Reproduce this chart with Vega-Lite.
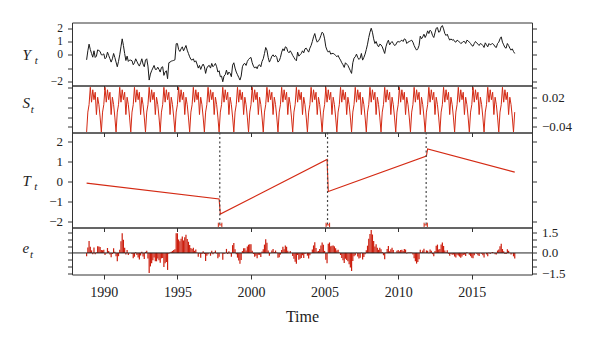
{
"$schema": "https://vega.github.io/schema/vega-lite/v6.json",
"padding": {"left": 21, "top": 21.5, "right": 5, "bottom": 5},
"bounds": "flush",
"spacing": 0,
"config": {
 "view": {"stroke": "#333333", "strokeWidth": 1},
 "font": "Liberation Serif",
 "axis": {"domain": false, "grid": false, "tickColor": "#333333", "tickSize": 4.5, "tickWidth": 1, "labelFont": "Liberation Serif", "labelFontSize": 12, "labelColor": "#222222", "labelPadding": 5, "titleFont": "Liberation Serif", "titleFontWeight": "normal", "titleColor": "#222222", "titleAngle": 0, "titleAlign": "left", "titleBaseline": "alphabetic", "titleFontStyle": "italic"}
},
"datasets": {
"m": [
{"t":1988.833,"y":-0.38,"s":-0.05,"e":-0.25},{"t":1988.917,"y":0.3,"s":-0.01,"e":0.41},
{"t":1989.0,"y":0.8,"s":0.005,"e":0.89},{"t":1989.083,"y":0.4,"s":0.04,"e":0.46},{"t":1989.167,"y":0.1,"s":0.01,"e":0.19},{"t":1989.25,"y":-0.18,"s":0.035,"e":-0.09},{"t":1989.333,"y":0.3,"s":0.015,"e":0.4},{"t":1989.417,"y":-0.2,"s":0.03,"e":-0.09},{"t":1989.5,"y":-0.1,"s":-0.015,"e":0.04},{"t":1989.583,"y":0.37,"s":0.02,"e":0.5},{"t":1989.667,"y":0.32,"s":0.005,"e":0.48},{"t":1989.75,"y":0.25,"s":-0.02,"e":0.45},{"t":1989.833,"y":0.0,"s":-0.05,"e":0.22},{"t":1989.917,"y":0.0,"s":-0.01,"e":0.2},
{"t":1990.0,"y":0.07,"s":0.005,"e":0.24},{"t":1990.083,"y":-0.3,"s":0.04,"e":-0.15},{"t":1990.167,"y":-0.2,"s":0.01,"e":-0.02},{"t":1990.25,"y":0.2,"s":0.035,"e":0.37},{"t":1990.333,"y":-0.05,"s":0.015,"e":0.14},{"t":1990.417,"y":-0.3,"s":0.03,"e":-0.11},{"t":1990.5,"y":-0.55,"s":-0.015,"e":-0.32},{"t":1990.583,"y":-0.3,"s":0.02,"e":-0.08},{"t":1990.667,"y":0.1,"s":0.005,"e":0.35},{"t":1990.75,"y":-0.2,"s":-0.02,"e":0.09},{"t":1990.833,"y":-0.55,"s":-0.05,"e":-0.24},{"t":1990.917,"y":-0.9,"s":-0.01,"e":-0.62},
{"t":1991.0,"y":-0.5,"s":0.005,"e":-0.24},{"t":1991.083,"y":0.0,"s":0.04,"e":0.24},{"t":1991.167,"y":0.6,"s":0.01,"e":0.87},{"t":1991.25,"y":1.2,"s":0.035,"e":1.46},{"t":1991.333,"y":0.7,"s":0.015,"e":0.98},{"t":1991.417,"y":0.1,"s":0.03,"e":0.38},{"t":1991.5,"y":-0.43,"s":-0.015,"e":-0.11},{"t":1991.583,"y":-0.1,"s":0.02,"e":0.21},{"t":1991.667,"y":-0.5,"s":0.005,"e":-0.16},{"t":1991.75,"y":-0.4,"s":-0.02,"e":-0.02},{"t":1991.833,"y":-0.4,"s":-0.05,"e":-0.01},{"t":1991.917,"y":-0.45,"s":-0.01,"e":-0.08},
{"t":1992.0,"y":-0.75,"s":0.005,"e":-0.4},{"t":1992.083,"y":-0.6,"s":0.04,"e":-0.28},{"t":1992.167,"y":-0.3,"s":0.01,"e":0.06},{"t":1992.25,"y":-0.5,"s":0.035,"e":-0.15},{"t":1992.333,"y":-0.7,"s":0.015,"e":-0.33},{"t":1992.417,"y":-0.85,"s":0.03,"e":-0.48},{"t":1992.5,"y":-0.6,"s":-0.015,"e":-0.19},{"t":1992.583,"y":-0.3,"s":0.02,"e":0.09},{"t":1992.667,"y":-0.7,"s":0.005,"e":-0.27},{"t":1992.75,"y":-0.9,"s":-0.02,"e":-0.44},{"t":1992.833,"y":-0.4,"s":-0.05,"e":0.08},{"t":1992.917,"y":-0.3,"s":-0.01,"e":0.16},
{"t":1993.0,"y":-0.85,"s":0.005,"e":-0.41},{"t":1993.083,"y":-1.9,"s":0.04,"e":-1.49},{"t":1993.167,"y":-1.45,"s":0.01,"e":-1.0},{"t":1993.25,"y":-1.2,"s":0.035,"e":-0.76},{"t":1993.333,"y":-1.0,"s":0.015,"e":-0.55},{"t":1993.417,"y":-0.8,"s":0.03,"e":-0.34},{"t":1993.5,"y":-1.1,"s":-0.015,"e":-0.61},{"t":1993.583,"y":-1.1,"s":0.02,"e":-0.62},{"t":1993.667,"y":-0.93,"s":0.005,"e":-0.42},{"t":1993.75,"y":-1.1,"s":-0.02,"e":-0.55},{"t":1993.833,"y":-1.3,"s":-0.05,"e":-0.73},{"t":1993.917,"y":-0.95,"s":-0.01,"e":-0.4},
{"t":1994.0,"y":-0.9,"s":0.005,"e":-0.38},{"t":1994.083,"y":-1.55,"s":0.04,"e":-1.05},{"t":1994.167,"y":-1.3,"s":0.01,"e":-0.77},{"t":1994.25,"y":-1.2,"s":0.035,"e":-0.68},{"t":1994.333,"y":-1.8,"s":0.015,"e":-1.26},{"t":1994.417,"y":-0.6,"s":0.03,"e":-0.06},{"t":1994.5,"y":-0.55,"s":-0.015,"e":0.03},{"t":1994.583,"y":-0.48,"s":0.02,"e":0.09},{"t":1994.667,"y":-0.45,"s":0.005,"e":0.15},{"t":1994.75,"y":-0.42,"s":-0.02,"e":0.22},{"t":1994.833,"y":-0.38,"s":-0.05,"e":0.28},{"t":1994.917,"y":0.83,"s":-0.01,"e":1.46},
{"t":1995.0,"y":0.85,"s":0.005,"e":1.46},{"t":1995.083,"y":0.4,"s":0.04,"e":0.99},{"t":1995.167,"y":0.25,"s":0.01,"e":0.87},{"t":1995.25,"y":0.45,"s":0.035,"e":1.06},{"t":1995.333,"y":0.6,"s":0.015,"e":1.23},{"t":1995.417,"y":0.3,"s":0.03,"e":0.93},{"t":1995.5,"y":0.5,"s":-0.015,"e":1.17},{"t":1995.583,"y":0.7,"s":0.02,"e":1.36},{"t":1995.667,"y":0.35,"s":0.005,"e":1.04},{"t":1995.75,"y":0.1,"s":-0.02,"e":0.83},{"t":1995.833,"y":-0.15,"s":-0.05,"e":0.59},{"t":1995.917,"y":-0.35,"s":-0.01,"e":0.37},
{"t":1996.0,"y":-0.4,"s":0.005,"e":0.3},{"t":1996.083,"y":-0.3,"s":0.04,"e":0.38},{"t":1996.167,"y":-0.55,"s":0.01,"e":0.16},{"t":1996.25,"y":-0.45,"s":0.035,"e":0.25},{"t":1996.333,"y":-0.7,"s":0.015,"e":0.02},{"t":1996.417,"y":-1.0,"s":0.03,"e":-0.28},{"t":1996.5,"y":-0.8,"s":-0.015,"e":-0.04},{"t":1996.583,"y":-1.1,"s":0.02,"e":-0.36},{"t":1996.667,"y":-0.85,"s":0.005,"e":-0.07},{"t":1996.75,"y":-0.7,"s":-0.02,"e":0.12},{"t":1996.833,"y":-0.9,"s":-0.05,"e":-0.07},{"t":1996.917,"y":-1.4,"s":-0.01,"e":-0.59},
{"t":1997.0,"y":-1.0,"s":0.005,"e":-0.21},{"t":1997.083,"y":-0.85,"s":0.04,"e":-0.09},{"t":1997.167,"y":-0.8,"s":0.01,"e":0.0},{"t":1997.25,"y":-1.0,"s":0.035,"e":-0.21},{"t":1997.333,"y":-0.65,"s":0.015,"e":0.16},{"t":1997.417,"y":-0.9,"s":0.03,"e":-0.09},{"t":1997.5,"y":-0.8,"s":-0.015,"e":0.05},{"t":1997.583,"y":-0.65,"s":0.02,"e":0.18},{"t":1997.667,"y":-0.9,"s":0.005,"e":-0.04},{"t":1997.75,"y":-1.3,"s":-0.02,"e":-0.4},{"t":1997.833,"y":-1.2,"s":-0.05,"e":-0.28},{"t":1997.917,"y":-1.65,"s":-0.01,"e":0.0},
{"t":1998.0,"y":-1.6,"s":0.005,"e":-0.01},{"t":1998.083,"y":-2.03,"s":0.04,"e":-0.5},{"t":1998.167,"y":-1.6,"s":0.01,"e":-0.08},{"t":1998.25,"y":-1.5,"s":0.035,"e":-0.03},{"t":1998.333,"y":-1.15,"s":0.015,"e":0.3},{"t":1998.417,"y":-1.5,"s":0.03,"e":-0.08},{"t":1998.5,"y":-1.3,"s":-0.015,"e":0.12},{"t":1998.583,"y":-1.4,"s":0.02,"e":-0.04},{"t":1998.667,"y":-1.65,"s":0.005,"e":-0.29},{"t":1998.75,"y":-0.78,"s":-0.02,"e":0.58},{"t":1998.833,"y":-0.6,"s":-0.05,"e":0.74},{"t":1998.917,"y":-1.0,"s":-0.01,"e":0.27},
{"t":1999.0,"y":-1.3,"s":0.005,"e":-0.09},{"t":1999.083,"y":-1.5,"s":0.04,"e":-0.35},{"t":1999.167,"y":-1.7,"s":0.01,"e":-0.56},{"t":1999.25,"y":-1.9,"s":0.035,"e":-0.8},{"t":1999.333,"y":-1.6,"s":0.015,"e":-0.52},{"t":1999.417,"y":-0.9,"s":0.03,"e":0.14},{"t":1999.5,"y":-0.7,"s":-0.015,"e":0.34},{"t":1999.583,"y":-0.65,"s":0.02,"e":0.34},{"t":1999.667,"y":-0.8,"s":0.005,"e":0.18},{"t":1999.75,"y":-0.5,"s":-0.02,"e":0.48},{"t":1999.833,"y":-0.35,"s":-0.05,"e":0.61},{"t":1999.917,"y":-0.25,"s":-0.01,"e":0.65},
{"t":2000.0,"y":-0.2,"s":0.005,"e":0.64},{"t":2000.083,"y":-0.6,"s":0.04,"e":0.17},{"t":2000.167,"y":-0.85,"s":0.01,"e":-0.08},{"t":2000.25,"y":-1.0,"s":0.035,"e":-0.28},{"t":2000.333,"y":-0.9,"s":0.015,"e":-0.2},{"t":2000.417,"y":-1.05,"s":0.03,"e":-0.39},{"t":2000.5,"y":-0.8,"s":-0.015,"e":-0.14},{"t":2000.583,"y":-0.75,"s":0.02,"e":-0.14},{"t":2000.667,"y":-0.9,"s":0.005,"e":-0.3},{"t":2000.75,"y":-0.5,"s":-0.02,"e":0.1},{"t":2000.833,"y":-0.3,"s":-0.05,"e":0.28},{"t":2000.917,"y":0.1,"s":-0.01,"e":0.62},
{"t":2001.0,"y":0.55,"s":0.005,"e":1.01},{"t":2001.083,"y":0.35,"s":0.04,"e":0.75},{"t":2001.167,"y":-0.2,"s":0.01,"e":0.19},{"t":2001.25,"y":-0.55,"s":0.035,"e":-0.21},{"t":2001.333,"y":-0.35,"s":0.015,"e":-0.03},{"t":2001.417,"y":-0.1,"s":0.03,"e":0.19},{"t":2001.5,"y":0.0,"s":-0.015,"e":0.29},{"t":2001.583,"y":-0.15,"s":0.02,"e":0.08},{"t":2001.667,"y":-0.05,"s":0.005,"e":0.18},{"t":2001.75,"y":-0.2,"s":-0.02,"e":0.03},{"t":2001.833,"y":-0.55,"s":-0.05,"e":-0.35},{"t":2001.917,"y":-0.45,"s":-0.01,"e":-0.31},
{"t":2002.0,"y":-0.2,"s":0.005,"e":-0.12},{"t":2002.083,"y":0.2,"s":0.04,"e":0.22},{"t":2002.167,"y":0.45,"s":0.01,"e":0.46},{"t":2002.25,"y":0.3,"s":0.035,"e":0.27},{"t":2002.333,"y":0.6,"s":0.015,"e":0.55},{"t":2002.417,"y":0.55,"s":0.03,"e":0.46},{"t":2002.5,"y":0.25,"s":-0.015,"e":0.16},{"t":2002.583,"y":0.15,"s":0.02,"e":0.01},{"t":2002.667,"y":0.3,"s":0.005,"e":0.15},{"t":2002.75,"y":0.15,"s":-0.02,"e":0.0},{"t":2002.833,"y":-0.05,"s":-0.05,"e":-0.22},{"t":2002.917,"y":-0.2,"s":-0.01,"e":-0.43},
{"t":2003.0,"y":-0.35,"s":0.005,"e":-0.65},{"t":2003.083,"y":-0.45,"s":0.04,"e":-0.81},{"t":2003.167,"y":0.2,"s":0.01,"e":-0.16},{"t":2003.25,"y":-0.1,"s":0.035,"e":-0.51},{"t":2003.333,"y":0.0,"s":0.015,"e":-0.43},{"t":2003.417,"y":0.1,"s":0.03,"e":-0.37},{"t":2003.5,"y":0.3,"s":-0.015,"e":-0.17},{"t":2003.583,"y":0.15,"s":0.02,"e":-0.37},{"t":2003.667,"y":0.45,"s":0.005,"e":-0.08},{"t":2003.75,"y":0.5,"s":-0.02,"e":-0.03},{"t":2003.833,"y":0.35,"s":-0.05,"e":-0.2},{"t":2003.917,"y":0.2,"s":-0.01,"e":-0.41},
{"t":2004.0,"y":0.5,"s":0.005,"e":-0.17},{"t":2004.083,"y":0.7,"s":0.04,"e":-0.03},{"t":2004.167,"y":1.0,"s":0.01,"e":0.26},{"t":2004.25,"y":1.35,"s":0.035,"e":0.56},{"t":2004.333,"y":1.6,"s":0.015,"e":0.79},{"t":2004.417,"y":1.2,"s":0.03,"e":0.36},{"t":2004.5,"y":0.95,"s":-0.015,"e":0.1},{"t":2004.583,"y":1.05,"s":0.02,"e":0.15},{"t":2004.667,"y":1.2,"s":0.005,"e":0.3},{"t":2004.75,"y":1.45,"s":-0.02,"e":0.55},{"t":2004.833,"y":1.7,"s":-0.05,"e":0.77},{"t":2004.917,"y":1.6,"s":-0.01,"e":0.61},
{"t":2005.0,"y":1.2,"s":0.005,"e":0.15},{"t":2005.083,"y":0.6,"s":0.04,"e":-0.51},{"t":2005.167,"y":0.35,"s":0.01,"e":-0.77},{"t":2005.25,"y":0.2,"s":0.035,"e":0.68},{"t":2005.333,"y":0.3,"s":0.015,"e":0.78},{"t":2005.417,"y":0.05,"s":0.03,"e":0.49},{"t":2005.5,"y":0.1,"s":-0.015,"e":0.54},{"t":2005.583,"y":0.1,"s":0.02,"e":0.55},{"t":2005.667,"y":0.05,"s":0.005,"e":0.49},{"t":2005.75,"y":-0.05,"s":-0.02,"e":0.34},{"t":2005.833,"y":-0.15,"s":-0.05,"e":0.18},{"t":2005.917,"y":-0.05,"s":-0.01,"e":0.23},
{"t":2006.0,"y":-0.25,"s":0.005,"e":0.03},{"t":2006.083,"y":-0.4,"s":0.04,"e":-0.15},{"t":2006.167,"y":-0.6,"s":0.01,"e":-0.37},{"t":2006.25,"y":-0.75,"s":0.035,"e":-0.54},{"t":2006.333,"y":-0.95,"s":0.015,"e":-0.74},{"t":2006.417,"y":-0.6,"s":0.03,"e":-0.43},{"t":2006.5,"y":-0.7,"s":-0.015,"e":-0.53},{"t":2006.583,"y":-0.8,"s":0.02,"e":-0.62},{"t":2006.667,"y":-1.0,"s":0.005,"e":-0.83},{"t":2006.75,"y":-1.2,"s":-0.02,"e":-1.08},{"t":2006.833,"y":-1.4,"s":-0.05,"e":-1.34},{"t":2006.917,"y":-0.6,"s":-0.01,"e":-0.59},
{"t":2007.0,"y":-0.25,"s":0.005,"e":-0.24},{"t":2007.083,"y":-0.15,"s":0.04,"e":-0.17},{"t":2007.167,"y":0.05,"s":0.01,"e":0.02},{"t":2007.25,"y":-0.2,"s":0.035,"e":-0.26},{"t":2007.333,"y":-0.35,"s":0.015,"e":-0.41},{"t":2007.417,"y":-0.25,"s":0.03,"e":-0.35},{"t":2007.5,"y":0.1,"s":-0.015,"e":0.01},{"t":2007.583,"y":-0.4,"s":0.02,"e":-0.49},{"t":2007.667,"y":-0.2,"s":0.005,"e":-0.3},{"t":2007.75,"y":0.05,"s":-0.02,"e":-0.1},{"t":2007.833,"y":0.4,"s":-0.05,"e":0.2},{"t":2007.917,"y":0.8,"s":-0.01,"e":0.54},
{"t":2008.0,"y":1.3,"s":0.005,"e":1.05},{"t":2008.083,"y":1.7,"s":0.04,"e":1.41},{"t":2008.167,"y":2.0,"s":0.01,"e":1.7},{"t":2008.25,"y":1.7,"s":0.035,"e":1.37},{"t":2008.333,"y":1.2,"s":0.015,"e":0.88},{"t":2008.417,"y":0.85,"s":0.03,"e":0.48},{"t":2008.5,"y":1.0,"s":-0.015,"e":0.64},{"t":2008.583,"y":0.75,"s":0.02,"e":0.39},{"t":2008.667,"y":0.6,"s":0.005,"e":0.23},{"t":2008.75,"y":0.8,"s":-0.02,"e":0.38},{"t":2008.833,"y":0.75,"s":-0.05,"e":0.28},{"t":2008.917,"y":0.6,"s":-0.01,"e":0.07},
{"t":2009.0,"y":0.35,"s":0.005,"e":-0.17},{"t":2009.083,"y":0.1,"s":0.04,"e":-0.46},{"t":2009.167,"y":0.6,"s":0.01,"e":0.03},{"t":2009.25,"y":0.9,"s":0.035,"e":0.3},{"t":2009.333,"y":1.1,"s":0.015,"e":0.51},{"t":2009.417,"y":0.75,"s":0.03,"e":0.12},{"t":2009.5,"y":0.9,"s":-0.015,"e":0.27},{"t":2009.583,"y":1.0,"s":0.02,"e":0.38},{"t":2009.667,"y":0.85,"s":0.005,"e":0.21},{"t":2009.75,"y":0.7,"s":-0.02,"e":0.01},{"t":2009.833,"y":0.75,"s":-0.05,"e":0.01},{"t":2009.917,"y":0.95,"s":-0.01,"e":0.16},
{"t":2010.0,"y":1.0,"s":0.005,"e":0.21},{"t":2010.083,"y":0.95,"s":0.04,"e":0.12},{"t":2010.167,"y":1.05,"s":0.01,"e":0.21},{"t":2010.25,"y":1.1,"s":0.035,"e":0.23},{"t":2010.333,"y":1.0,"s":0.015,"e":0.14},{"t":2010.417,"y":1.2,"s":0.03,"e":0.3},{"t":2010.5,"y":1.15,"s":-0.015,"e":0.25},{"t":2010.583,"y":0.85,"s":0.02,"e":-0.04},{"t":2010.667,"y":0.95,"s":0.005,"e":0.04},{"t":2010.75,"y":1.0,"s":-0.02,"e":0.04},{"t":2010.833,"y":1.05,"s":-0.05,"e":0.04},{"t":2010.917,"y":1.1,"s":-0.01,"e":0.04},
{"t":2011.0,"y":0.95,"s":0.005,"e":-0.11},{"t":2011.083,"y":0.7,"s":0.04,"e":-0.4},{"t":2011.167,"y":0.5,"s":0.01,"e":-0.61},{"t":2011.25,"y":0.35,"s":0.035,"e":-0.79},{"t":2011.333,"y":0.45,"s":0.015,"e":-0.68},{"t":2011.417,"y":0.7,"s":0.03,"e":-0.47},{"t":2011.5,"y":1.4,"s":-0.015,"e":0.23},{"t":2011.583,"y":1.2,"s":0.02,"e":0.04},{"t":2011.667,"y":1.35,"s":0.005,"e":0.18},{"t":2011.75,"y":1.55,"s":-0.02,"e":0.32},{"t":2011.833,"y":1.3,"s":-0.05,"e":0.02},{"t":2011.917,"y":1.5,"s":-0.01,"e":0.19},
{"t":2012.0,"y":1.8,"s":0.005,"e":0.16},{"t":2012.083,"y":1.6,"s":0.04,"e":-0.03},{"t":2012.167,"y":1.85,"s":0.01,"e":0.25},{"t":2012.25,"y":1.75,"s":0.035,"e":0.16},{"t":2012.333,"y":1.45,"s":0.015,"e":-0.09},{"t":2012.417,"y":1.3,"s":0.03,"e":-0.25},{"t":2012.5,"y":1.65,"s":-0.015,"e":0.14},{"t":2012.583,"y":2.0,"s":0.02,"e":0.54},{"t":2012.667,"y":2.05,"s":0.005,"e":0.62},{"t":2012.75,"y":1.7,"s":-0.02,"e":0.25},{"t":2012.833,"y":1.75,"s":-0.05,"e":0.29},{"t":2012.917,"y":2.1,"s":-0.01,"e":0.62},
{"t":2013.0,"y":2.2,"s":0.005,"e":0.77},{"t":2013.083,"y":1.95,"s":0.04,"e":0.52},{"t":2013.167,"y":1.6,"s":0.01,"e":0.19},{"t":2013.25,"y":1.45,"s":0.035,"e":0.05},{"t":2013.333,"y":1.55,"s":0.015,"e":0.2},{"t":2013.417,"y":1.3,"s":0.03,"e":-0.06},{"t":2013.5,"y":1.1,"s":-0.015,"e":-0.21},{"t":2013.583,"y":1.2,"s":0.02,"e":-0.07},{"t":2013.667,"y":1.1,"s":0.005,"e":-0.14},{"t":2013.75,"y":1.15,"s":-0.02,"e":-0.11},{"t":2013.833,"y":1.0,"s":-0.05,"e":-0.27},{"t":2013.917,"y":0.95,"s":-0.01,"e":-0.33},
{"t":2014.0,"y":1.1,"s":0.005,"e":-0.14},{"t":2014.083,"y":1.05,"s":0.04,"e":-0.19},{"t":2014.167,"y":0.95,"s":0.01,"e":-0.27},{"t":2014.25,"y":0.85,"s":0.035,"e":-0.35},{"t":2014.333,"y":0.9,"s":0.015,"e":-0.26},{"t":2014.417,"y":1.0,"s":0.03,"e":-0.16},{"t":2014.5,"y":1.0,"s":-0.015,"e":-0.12},{"t":2014.583,"y":0.85,"s":0.02,"e":-0.22},{"t":2014.667,"y":1.1,"s":0.005,"e":0.05},{"t":2014.75,"y":1.05,"s":-0.02,"e":-0.01},{"t":2014.833,"y":0.95,"s":-0.05,"e":-0.13},{"t":2014.917,"y":0.85,"s":-0.01,"e":-0.24},
{"t":2015.0,"y":0.7,"s":0.005,"e":-0.35},{"t":2015.083,"y":0.65,"s":0.04,"e":-0.4},{"t":2015.167,"y":0.85,"s":0.01,"e":-0.17},{"t":2015.25,"y":1.0,"s":0.035,"e":-0.01},{"t":2015.333,"y":0.9,"s":0.015,"e":-0.06},{"t":2015.417,"y":0.8,"s":0.03,"e":-0.17},{"t":2015.5,"y":0.7,"s":-0.015,"e":-0.23},{"t":2015.583,"y":0.85,"s":0.02,"e":-0.03},{"t":2015.667,"y":0.8,"s":0.005,"e":-0.05},{"t":2015.75,"y":0.7,"s":-0.02,"e":-0.17},{"t":2015.833,"y":0.55,"s":-0.05,"e":-0.33},{"t":2015.917,"y":0.9,"s":-0.01,"e":0.0},
{"t":2016.0,"y":0.75,"s":0.005,"e":-0.11},{"t":2016.083,"y":0.6,"s":0.04,"e":-0.25},{"t":2016.167,"y":0.85,"s":0.01,"e":0.02},{"t":2016.25,"y":0.75,"s":0.035,"e":-0.07},{"t":2016.333,"y":0.8,"s":0.015,"e":0.03},{"t":2016.417,"y":0.85,"s":0.03,"e":0.08},{"t":2016.5,"y":0.75,"s":-0.015,"e":0.02},{"t":2016.583,"y":0.6,"s":0.02,"e":-0.09},{"t":2016.667,"y":0.55,"s":0.005,"e":-0.11},{"t":2016.75,"y":0.85,"s":-0.02,"e":0.18},{"t":2016.833,"y":0.95,"s":-0.05,"e":0.26},{"t":2016.917,"y":1.2,"s":-0.01,"e":0.5},
{"t":2017.0,"y":1.35,"s":0.005,"e":0.69},{"t":2017.083,"y":0.95,"s":0.04,"e":0.29},{"t":2017.167,"y":0.75,"s":0.01,"e":0.12},{"t":2017.25,"y":0.55,"s":0.035,"e":-0.07},{"t":2017.333,"y":0.5,"s":0.015,"e":-0.08},{"t":2017.417,"y":0.85,"s":0.03,"e":0.27},{"t":2017.5,"y":0.7,"s":-0.015,"e":0.16},{"t":2017.583,"y":0.5,"s":0.02,"e":0.01},{"t":2017.667,"y":0.35,"s":0.005,"e":-0.12},{"t":2017.75,"y":0.45,"s":-0.02,"e":-0.03},{"t":2017.833,"y":0.25,"s":-0.05,"e":-0.25},{"t":2017.917,"y":0.1,"s":-0.01,"e":-0.41}
],
"tr": [
{"t":1988.833,"T":-0.08},{"t":1997.833,"T":-0.87},{"t":1997.917,"T":-1.63},{"t":2005.167,"T":1.1},{"t":2005.25,"T":-0.5},{"t":2011.917,"T":1.27},{"t":2012.0,"T":1.63},{"t":2017.917,"T":0.47}
],
"bp": [
{"b":1997.88,"lo":1997.78,"hi":1998.02},{"b":2005.2,"lo":2005.1,"hi":2005.34},{"b":2011.9,"lo":2011.76,"hi":2011.98}
]
},
"vconcat": [
{
 "width": 460, "height": 63,
 "data": {"name": "m"},
 "encoding": {"x": {"field": "t", "type": "quantitative", "scale": {"domain": [1987.84, 2019.09], "nice": false, "zero": false}, "axis": {"values": [1990,1995,2000,2005,2010,2015], "labels": false, "title": null, "tickSize": 4}}},
 "layer": [
  {"mark": {"type": "line", "color": "#1a1a1a", "strokeWidth": 1},
   "encoding": {"y": {"field": "y", "type": "quantitative", "scale": {"domain": [-2.31, 2.43], "nice": false, "zero": false},
     "axis": {"orient": "left", "values": [-2,-1,0,1,2], "labelExpr": "datum.value == -1 ? '' : datum.label", "labelFont": "Liberation Serif", "labelFontSize": 11.5, "title": "Y", "titleFontSize": 15, "titleX": -50, "titleY": 37.3}}}},
  {"mark": {"type": "line", "opacity": 0},
   "encoding": {"y": {"field": "y", "type": "quantitative",
     "axis": {"orient": "right", "values": [-2,-1,0,1,2], "labels": false, "title": "t", "titleFontSize": 11, "titleX": -497.7, "titleY": 41.3}}}}
 ],
 "resolve": {"axis": {"y": "independent"}}
},
{
 "width": 460, "height": 47,
 "data": {"name": "m"},
 "encoding": {"x": {"field": "t", "type": "quantitative", "scale": {"domain": [1987.84, 2019.09], "nice": false, "zero": false}, "axis": {"values": [1990,1995,2000,2005,2010,2015], "labels": false, "title": null, "tickSize": 4}}},
 "layer": [
  {"mark": {"type": "line", "color": "#d42a14", "strokeWidth": 1},
   "encoding": {"y": {"field": "s", "type": "quantitative", "scale": {"domain": [-0.0511, 0.0436], "nice": false, "zero": false},
     "axis": {"orient": "left", "values": [-0.04,-0.02,0,0.02,0.04], "labels": false, "title": "S", "titleFontSize": 15, "titleX": -50, "titleY": 22.3}}}},
  {"mark": {"type": "line", "opacity": 0},
   "encoding": {"y": {"field": "s", "type": "quantitative",
     "axis": {"orient": "right", "values": [-0.04,-0.02,0,0.02,0.04], "format": ".2f", "labelExpr": "(datum.value == 0.02 || datum.value == -0.04) ? datum.label : ''", "labelFont": "Liberation Serif", "labelFontSize": 13, "title": "t", "titleFontSize": 11, "titleX": -501.7, "titleY": 26.7}}}}
 ],
 "resolve": {"axis": {"y": "independent"}}
},
{
 "width": 460, "height": 95,
 "layer": [
  {"data": {"name": "tr"}, "mark": {"type": "line", "color": "#d42a14", "strokeWidth": 1.1},
   "encoding": {
     "x": {"field": "t", "type": "quantitative", "scale": {"domain": [1987.84, 2019.09], "nice": false, "zero": false}, "axis": {"values": [1990,1995,2000,2005,2010,2015], "labels": false, "title": null, "tickSize": 4}},
     "y": {"field": "T", "type": "quantitative", "scale": {"domain": [-2.3, 2.45], "nice": false, "zero": false},
     "axis": {"orient": "left", "values": [-2,-1,0,1,2], "labelFont": "Liberation Serif", "labelFontSize": 13, "title": "T", "titleFontSize": 15, "titleX": -50, "titleY": 53}}}},
  {"data": {"name": "bp"}, "mark": {"type": "rule", "color": "#444444", "strokeWidth": 1.2, "strokeDash": [2, 2.5]},
   "encoding": {"x": {"field": "b", "type": "quantitative", "scale": {"domain": [1987.84, 2019.09], "nice": false, "zero": false}, "axis": {"values": [1990,1995,2000,2005,2010,2015], "labels": false, "title": null, "tickSize": 4}}}},
  {"data": {"name": "bp"}, "mark": {"type": "rule", "color": "#d42a14", "strokeWidth": 1},
   "encoding": {"x": {"field": "lo", "type": "quantitative", "scale": {"domain": [1987.84, 2019.09], "nice": false, "zero": false}, "axis": {"values": [1990,1995,2000,2005,2010,2015], "labels": false, "title": null, "tickSize": 4}},
     "x2": {"field": "hi"}, "y": {"datum": -2.17, "type": "quantitative", "axis": null}}},
  {"data": {"name": "bp"}, "mark": {"type": "rule", "color": "#d42a14", "strokeWidth": 1},
   "encoding": {"x": {"field": "lo", "type": "quantitative", "scale": {"domain": [1987.84, 2019.09], "nice": false, "zero": false}, "axis": {"values": [1990,1995,2000,2005,2010,2015], "labels": false, "title": null, "tickSize": 4}},
     "y": {"datum": -2.06, "type": "quantitative", "axis": null}, "y2": {"datum": -2.28}}},
  {"data": {"name": "bp"}, "mark": {"type": "rule", "color": "#d42a14", "strokeWidth": 1},
   "encoding": {"x": {"field": "hi", "type": "quantitative", "scale": {"domain": [1987.84, 2019.09], "nice": false, "zero": false}, "axis": {"values": [1990,1995,2000,2005,2010,2015], "labels": false, "title": null, "tickSize": 4}},
     "y": {"datum": -2.06, "type": "quantitative", "axis": null}, "y2": {"datum": -2.28}}},
  {"data": {"name": "tr"}, "mark": {"type": "line", "opacity": 0},
   "encoding": {
     "x": {"field": "t", "type": "quantitative", "scale": {"domain": [1987.84, 2019.09], "nice": false, "zero": false}, "axis": {"values": [1990,1995,2000,2005,2010,2015], "labels": false, "title": null, "tickSize": 4}},
     "y": {"field": "T", "type": "quantitative",
     "axis": {"orient": "right", "values": [-2,-1,0,1,2], "labels": false, "title": "t", "titleFontSize": 11, "titleX": -498.3, "titleY": 57}}}}
 ],
 "resolve": {"axis": {"y": "independent"}}
},
{
 "width": 460, "height": 47,
 "layer": [
  {"data": {"name": "m"}, "mark": {"type": "rule", "color": "#cc1e0e", "strokeWidth": 1.2},
   "encoding": {
     "x": {"field": "t", "type": "quantitative", "scale": {"domain": [1987.84, 2019.09], "nice": false, "zero": false}, "axis": {"values": [1990,1995,2000,2005,2010,2015], "format": "d", "labelFont": "Liberation Serif", "labelFontSize": 14, "labelPadding": 6, "tickSize": 4.5, "title": "Time", "titleFont": "Liberation Serif", "titleFontStyle": "normal", "titleAlign": "center", "titleBaseline": "top", "titleFontSize": 16, "titlePadding": 9}},
     "y": {"field": "e", "type": "quantitative", "scale": {"domain": [-1.6, 1.89], "nice": false, "zero": false},
     "axis": {"orient": "left", "values": [-1.5,-1,-0.5,0,0.5,1,1.5], "labels": false, "title": "e", "titleFontSize": 15, "titleX": -50, "titleY": 25}},
     "y2": {"datum": 0}}},
  {"data": {"values": [{}]}, "mark": {"type": "rule", "color": "#222222", "strokeWidth": 1},
   "encoding": {"y": {"datum": 0, "type": "quantitative", "axis": null}}},
  {"data": {"name": "m"}, "mark": {"type": "rule", "opacity": 0},
   "encoding": {
     "x": {"field": "t", "type": "quantitative", "scale": {"domain": [1987.84, 2019.09], "nice": false, "zero": false}, "axis": {"values": [1990,1995,2000,2005,2010,2015], "format": "d", "labelFont": "Liberation Serif", "labelFontSize": 14, "labelPadding": 6, "tickSize": 4.5, "title": "Time", "titleFont": "Liberation Serif", "titleFontStyle": "normal", "titleAlign": "center", "titleBaseline": "top", "titleFontSize": 16, "titlePadding": 9}},
     "y": {"field": "e", "type": "quantitative",
     "axis": {"orient": "right", "values": [-1.5,-1,-0.5,0,0.5,1,1.5], "format": ".1f", "labelExpr": "(abs(datum.value) == 1.5 || datum.value == 0) ? datum.label : ''", "labelFont": "Liberation Serif", "labelFontSize": 13, "title": "t", "titleFontSize": 11, "titleX": -502.5, "titleY": 29.7}}}}
 ],
 "resolve": {"axis": {"y": "independent"}}
}
]
}
